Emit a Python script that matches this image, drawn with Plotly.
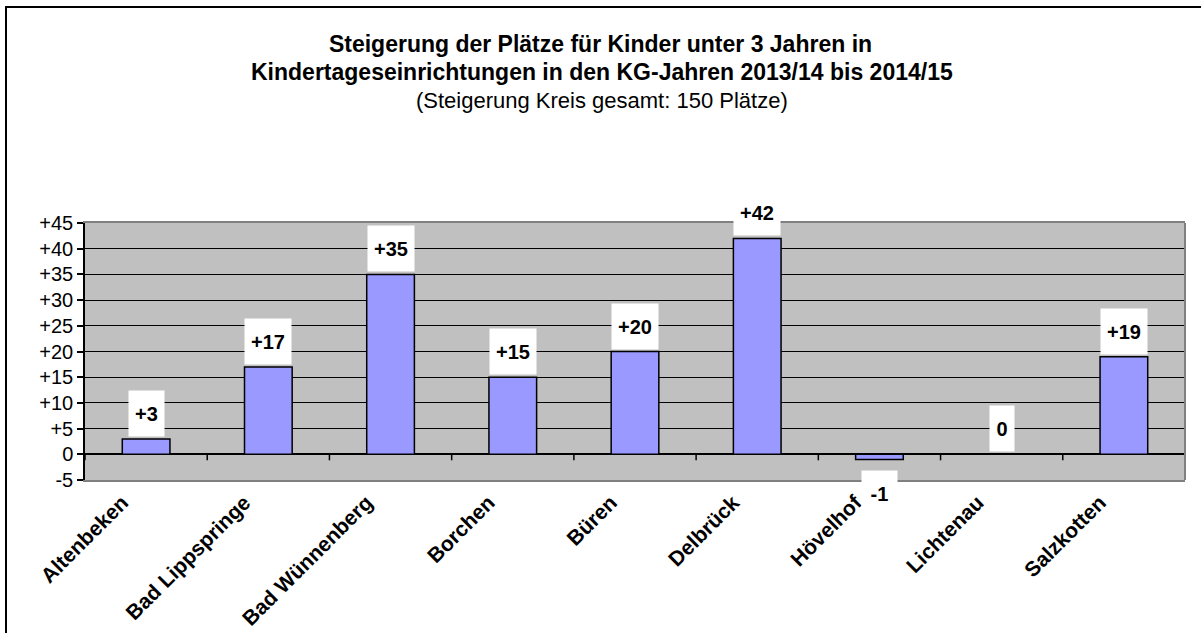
import plotly.graph_objects as go

# ---- data ----
categories = ["Altenbeken", "Bad Lippspringe", "Bad Wünnenberg", "Borchen", "Büren",
              "Delbrück", "Hövelhof", "Lichtenau", "Salzkotten"]
values = [3, 17, 35, 15, 20, 42, -1, 0, 19]
y_tickvals = [-5, 0, 5, 10, 15, 20, 25, 30, 35, 40, 45]
y_ticktext = ["-5", "0", "+5", "+10", "+15", "+20", "+25", "+30", "+35", "+40", "+45"]
title_lines = ["Steigerung der Plätze für Kinder unter 3 Jahren in",
               "Kindertageseinrichtungen in den KG-Jahren 2013/14 bis 2014/15"]
subtitle = "(Steigerung Kreis gesamt: 150 Plätze)"

W, H = 1201, 633
ML, MR, MT, MB = 85, 16, 223, 153
PW, PH = W - ML - MR, H - MT - MB
FONT = "Liberation Sans, Arial, sans-serif"
TITLE_X = (602 - ML) / PW


def fmt(v):
    return f"+{v}" if v > 0 else str(v)


def paper_y(px):
    return 1 + (MT - px) / PH


fig = go.Figure()
fig.add_trace(go.Bar(
    x=categories, y=values,
    marker=dict(color="#9999FF", line=dict(color="black", width=1.5)),
    hoverinfo="x+y", showlegend=False,
))

# data labels with white boxes
for c, v in zip(categories, values):
    lab = fmt(v)
    if v >= 0:
        ya, ys = "bottom", 2
    else:
        ya, ys = "top", -11
    fig.add_annotation(
        x=c, y=v, xref="x", yref="y", text=f"<b>{lab}</b>", showarrow=False,
        yanchor=ya, yshift=ys, bgcolor="white", borderpad=2,
        width=11 * len(lab) + 9, height=41,
        font=dict(family=FONT, size=20, color="black"),
    )

# second title line and subtitle
fig.add_annotation(
    xref="paper", yref="paper", x=TITLE_X, y=paper_y(72),
    text=f"<b>{title_lines[1]}</b>", showarrow=False, xanchor="center", yanchor="middle",
    font=dict(family=FONT, size=23, color="black"),
)
fig.add_annotation(
    xref="paper", yref="paper", x=TITLE_X, y=paper_y(101),
    text=subtitle, showarrow=False, xanchor="center", yanchor="middle",
    font=dict(family=FONT, size=22, color="black"),
)

# category boundary ticks on the zero line
n = len(categories)
for i in range(n + 1):
    fig.add_shape(type="line", xref="x", yref="y", x0=i - 0.5, x1=i - 0.5,
                  ysizemode="pixel", yanchor=0, y0=0, y1=-6,
                  line=dict(color="black", width=1.5), layer="above")

# right plot border
fig.add_shape(type="line", xref="paper", yref="paper", x0=1, x1=1, y0=0, y1=1,
              line=dict(color="#808080", width=2), layer="above")

# outer chart border (left & top visible)
fig.add_shape(type="rect", xref="paper", yref="paper",
              x0=(6 - ML) / PW, x1=1 + (MR + 40) / PW,
              y0=-(MB + 40) / PH, y1=paper_y(7),
              line=dict(color="black", width=2), layer="above")

fig.update_layout(
    width=W, height=H,
    margin=dict(l=ML, r=MR, t=MT, b=MB, autoexpand=False),
    paper_bgcolor="white", plot_bgcolor="#C0C0C0",
    bargap=0.61,
    font=dict(family=FONT, color="black"),
    title=dict(
        text=f"<b>{title_lines[0]}</b>",
        x=0.5, xref="container", xanchor="center",
        y=1 - 44 / H, yref="container", yanchor="middle",
        font=dict(family=FONT, size=23, color="black"),
    ),
    xaxis=dict(
        type="category", range=[-0.5, n - 0.5],
        showline=True, linecolor="#808080", linewidth=2, mirror=True,
        ticks="", tickangle=-45, ticklabelshift=-24,
        tickfont=dict(family=FONT, size=21, color="black", weight="bold"),
        showgrid=False, zeroline=False,
    ),
    yaxis=dict(
        range=[-5, 45], tickvals=y_tickvals, ticktext=y_ticktext,
        showline=True, linecolor="black", linewidth=1.5,
        ticks="outside", ticklen=6, tickcolor="black", tickwidth=1.5,
        tickfont=dict(family=FONT, size=20, color="black"),
        showgrid=True, gridcolor="black", gridwidth=1,
        zeroline=True, zerolinecolor="black", zerolinewidth=1.5,
    ),
)

fig.write_html("out.html", config={"displayModeBar": False},
               post_script="document.body.style.margin='0';document.body.style.padding='0';")
